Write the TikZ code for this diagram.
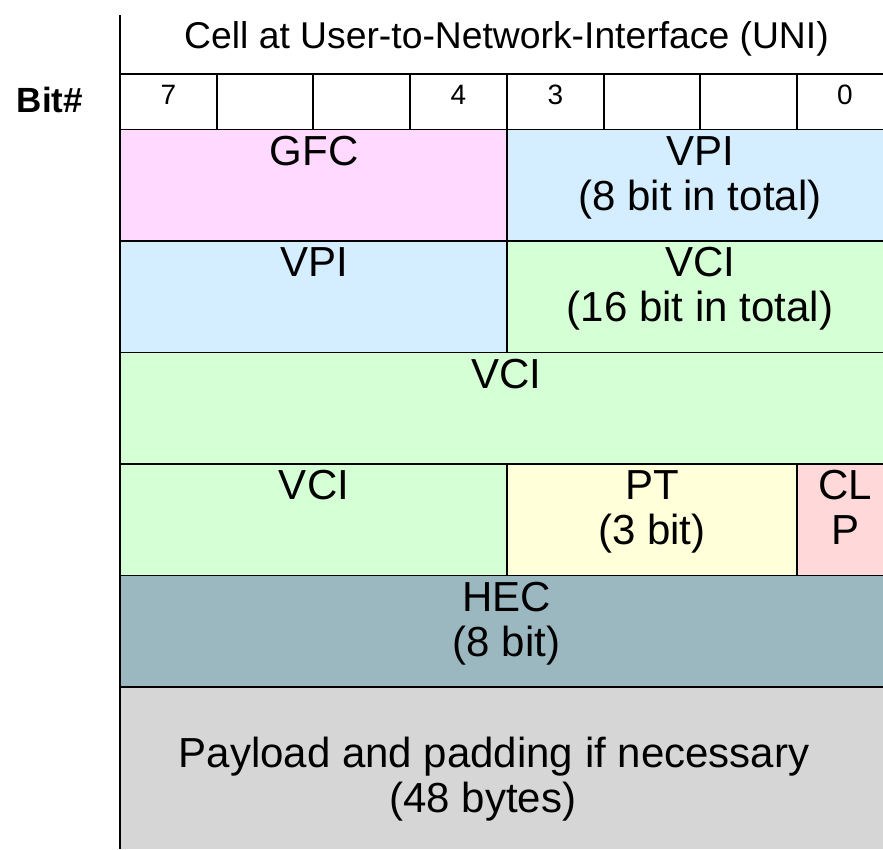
\documentclass[tikz,border=0pt]{standalone}
\usepackage{fontspec}
\setmainfont{Liberation Sans}
\definecolor{gfccol}{RGB}{255,217,255}
\definecolor{vpicol}{RGB}{213,238,255}
\definecolor{vcicol}{RGB}{213,255,213}
\definecolor{ptcol}{RGB}{255,255,217}
\definecolor{clpcol}{RGB}{255,217,217}
\definecolor{heccol}{RGB}{155,183,192}
\definecolor{paycol}{RGB}{214,214,214}
\begin{document}
\begin{tikzpicture}[x=1pt,y=-1pt,
  grid/.style={line width=1.8pt,black},
  axis/.style={line width=2.2pt,black},
  lbl/.style={anchor=base,inner sep=0pt,align=center,font=\fontsize{42}{45}\selectfont},
  bitno/.style={anchor=base,inner sep=0pt,font=\fontsize{28}{30}\selectfont},
  head/.style={anchor=base,inner sep=0pt,font=\fontsize{37.3}{40}\selectfont},
  bithead/.style={anchor=base,inner sep=0pt,font=\fontsize{35}{38}\selectfont\bfseries}]
\useasboundingbox (0,0) rectangle (883,849);
% fills
\fill[gfccol] (120,129.5) rectangle (507,241);
\fill[vpicol] (507,129.5) rectangle (883,241);
\fill[vpicol] (120,241) rectangle (507,352.5);
\fill[vcicol] (507,241) rectangle (883,352.5);
\fill[vcicol] (120,352.5) rectangle (883,464);
\fill[vcicol] (120,464) rectangle (507,575.5);
\fill[ptcol] (507,464) rectangle (797,575.5);
\fill[clpcol] (797,464) rectangle (883,575.5);
\fill[heccol] (120,575.5) rectangle (883,687);
\fill[paycol] (120,687) rectangle (883,849);
% horizontal grid lines
\foreach \y in {74,129.5,241,352.5,464,575.5,687}
  \draw[grid] (120,\y) -- (883,\y);
% bit row separators
\foreach \x in {216.7,313.3,410,507,603.7,700.3,797}
  \draw[grid] (\x,74) -- (\x,129.5);
% field separators
\draw[grid] (507,129.5) -- (507,352.5);
\draw[grid] (507,464) -- (507,575.5);
\draw[grid] (797,464) -- (797,575.5);
% left axis
\draw[axis] (120,15) -- (120,849);
% texts
\node[head] (title) at (506.5,48) {Cell at User-to-Network-Interface (UNI)};
\node[bithead] (bit) at (50,112) {Bit\#};
\node[bitno] (b7) at (168.3,104) {7};
\node[bitno] (b4) at (458.5,104) {4};
\node[bitno] (b3) at (555.5,104) {3};
\node[bitno] (b0) at (845,104) {0};
\node[lbl] (gfc) at (314,165) {GFC};
\node[lbl] (vpi1) at (700,210) {VPI\\(8 bit in total)};
\node[lbl] (vpi2) at (314,276.5) {VPI};
\node[lbl] (vci1) at (700,321.5) {VCI\\(16 bit in total)};
\node[lbl] (vci2) at (506.5,388) {VCI};
\node[lbl] (vci3) at (314,499.5) {VCI};
\node[lbl] (pt) at (652,544.5) {PT\\(3 bit)};
\node[lbl] (clp) at (845,544.5) {CL\\P};
\node[lbl] (hec) at (506.5,656) {HEC\\(8 bit)};
\node[lbl] (pay) at (494,767) {Payload and padding if necessary};
\node[lbl] (pay2) at (483,812) {(48 bytes)};
\end{tikzpicture}
\end{document}
